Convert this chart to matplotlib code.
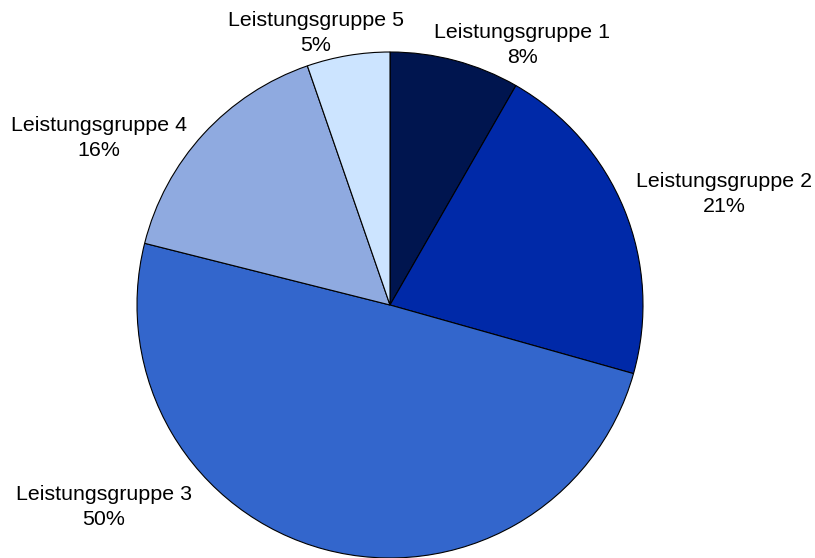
import matplotlib
matplotlib.use("Agg")
import matplotlib.pyplot as plt

categories = ["Leistungsgruppe 1", "Leistungsgruppe 2", "Leistungsgruppe 3",
              "Leistungsgruppe 4", "Leistungsgruppe 5"]
values = [8.3, 21.1, 49.6, 15.8, 5.3]
pct_labels = ["8%", "21%", "50%", "16%", "5%"]
colors = ["#00154F", "#0029A8", "#3366CC", "#8FAAE0", "#CCE4FF"]

W, H = 815, 558
cx, cy, R = 390, 305, 253

fig = plt.figure(figsize=(W / 100, H / 100), dpi=100)
ax = fig.add_axes([0, 0, 1, 1])

ax.pie(values, colors=colors, startangle=90, counterclock=False, radius=1.0,
       wedgeprops=dict(edgecolor="black", linewidth=0.8))
ax.set_xlim(-cx / R, (W - cx) / R)
ax.set_ylim(-(H - cy) / R, cy / R)
ax.set_aspect("equal")
ax.axis("off")

# label centres in pixels (layout)
label_pos = [(522, 45), (724, 194), (104, 507), (99, 138), (316, 33)]
for cat, pct, (px, py) in zip(categories, pct_labels, label_pos):
    fig.text(px / W, 1 - py / H, f"{cat}\n{pct}", ha="center", va="center",
             fontsize=15.4, family=["Liberation Sans", "DejaVu Sans"],
             linespacing=1.4)

fig.savefig("out.png", dpi=100)
